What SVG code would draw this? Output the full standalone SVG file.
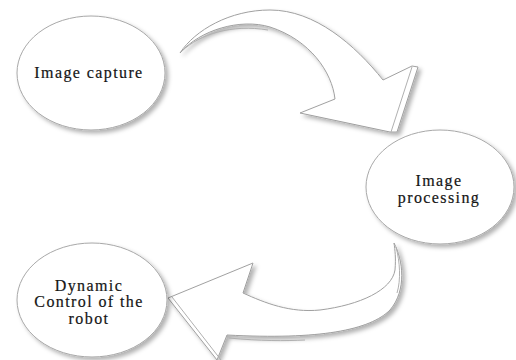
<svg xmlns="http://www.w3.org/2000/svg" width="516" height="360" viewBox="0 0 516 360">
<style>
.node{fill:#fff;stroke:#a8a8a8;stroke-width:1;filter:url(#sh)}
.arrow{fill:#fff;stroke:#a0a0a0;stroke-width:1;filter:url(#sh)}
.edge{fill:none;stroke:#b0b0b0;stroke-width:1}
.lbl{font-family:"Liberation Serif","DejaVu Serif",serif;font-size:16px;letter-spacing:1.4px;fill:#151515;stroke:#151515;stroke-width:0.2;text-anchor:middle}
</style>
<defs>
<filter id="sh" x="-20%" y="-20%" width="140%" height="140%">
<feDropShadow dx="3" dy="3" stdDeviation="2" flood-color="#000" flood-opacity="0.3"/>
</filter>
</defs>
<rect width="516" height="360" fill="#fff"/>
<g id="connectors">
<g id="arrow1">
<path class="arrow" d="M180,53 C195,30 230,10 270,10 C315,10 355,45 383,80 L412,66 L418,67 L397,132 L390,132 L300,113 L335,99 C332,72 310,40 270,27 C240,18 200,30 180,53 Z"/>
<path class="edge" d="M182,51 C200,34 232,24 268,30"/>
<path class="edge" d="M412,67 L391,132"/>
</g>
<g id="arrow2">
<path class="arrow" d="M394,243 C403,260 407,290 390,310 C370,330 320,340 227,335 L217,360 L168,298 L253,263 L243,293 C265,303 290,313 320,310 C360,305 392,290 395,270 C396,258 395,250 394,243 Z"/>
<path class="edge" d="M172,297 L221,360"/>
<path class="edge" d="M229,338 C260,341 285,341 305,340"/>
<path class="edge" d="M396,247 C400,262 401,280 397,293"/>
</g>
</g>
<g id="node-capture">
<ellipse class="node" cx="91" cy="73" rx="74" ry="57"/>
<text class="lbl" x="89" y="78">Image capture</text>
</g>
<g id="node-processing">
<ellipse class="node" cx="440" cy="187" rx="74" ry="57"/>
<text class="lbl" x="439" y="186">Image</text>
<text class="lbl" x="439" y="203">processing</text>
</g>
<g id="node-control">
<ellipse class="node" cx="92" cy="300" rx="75" ry="57"/>
<text class="lbl" x="89" y="291">Dynamic</text>
<text class="lbl" x="89" y="307">Control of the</text>
<text class="lbl" x="89" y="324">robot</text>
</g>
</svg>
